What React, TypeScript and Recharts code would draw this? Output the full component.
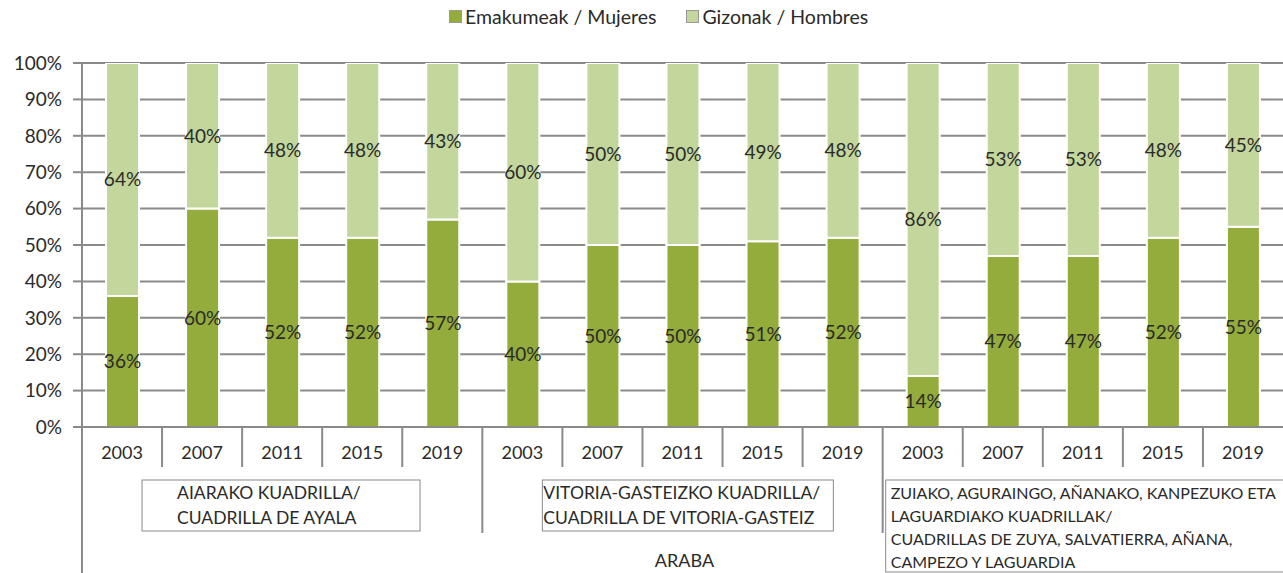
import { BarChart, Bar, XAxis, YAxis, CartesianGrid, LabelList } from 'recharts'

const years = ['2003', '2007', '2011', '2015', '2019', '2003', '2007', '2011', '2015', '2019', '2003', '2007', '2011', '2015', '2019']
const women = [36, 60, 52, 52, 57, 40, 50, 50, 51, 52, 14, 47, 47, 52, 55]
const men = [64, 40, 48, 48, 43, 60, 50, 50, 49, 48, 86, 53, 53, 48, 45]
const groupLabels = [
  ['AIARAKO KUADRILLA/', 'CUADRILLA DE AYALA'],
  ['VITORIA-GASTEIZKO KUADRILLA/', 'CUADRILLA DE VITORIA-GASTEIZ'],
  [
    'ZUIAKO, AGURAINGO, AÑANAKO, KANPEZUKO ETA',
    'LAGUARDIAKO KUADRILLAK/',
    'CUADRILLAS DE ZUYA, SALVATIERRA, AÑANA,',
    'CAMPEZO Y LAGUARDIA',
  ],
]
const regionLabel = 'ARABA'
const seriesNames = ['Emakumeak / Mujeres', 'Gizonak / Hombres']

const WIDTH = 1283
const HEIGHT = 573
const LEFT = 82
const BAND = (WIDTH - LEFT) / years.length
const FONT = 'Lato, "Open Sans", sans-serif'
const GRID = '#8a8a8a'
const TEXT = '#2a2a2a'
const DARK = '#93ac3c'
const LIGHT = '#c3d69b'

const data = years.map((y, i) => ({ id: `${i}-${y}`, women: women[i], men: men[i] }))

// box offsets relative to the first bar centre in each group
const groupBoxes = [
  { dx: 20, w: 278, h: 51, tx: 55, lineH: 25, fs: 17.5 },
  { dx: 20, w: 291, h: 51, tx: 21, lineH: 25, fs: 17.5 },
  { dx: -37, w: 420, h: 92, tx: -32, lineH: 23, fs: 16 },
]

function XTick(props: any) {
  const { x, y, payload } = props
  const i = payload.index as number
  const half = BAND / 2
  const last = i === years.length - 1
  const groupEnd = i % 5 === 4
  const sepLen = groupEnd ? 106 : 40
  const g = i % 5 === 0 ? Math.floor(i / 5) : -1
  const box = g >= 0 ? groupBoxes[g] : null
  return (
    <g>
      <text x={x} y={y + 32} textAnchor="middle" fill={TEXT} fontSize={18} fontFamily={FONT}>
        {years[i]}
      </text>
      {!last && (
        <line x1={x + half} x2={x + half} y1={y} y2={y + sepLen} stroke={GRID} strokeWidth={2} />
      )}
      {i === 0 && (
        <>
          <line x1={x - half} x2={x - half} y1={y} y2={HEIGHT} stroke={GRID} strokeWidth={2} />
          <text x={LEFT + (WIDTH - LEFT) / 2 + 2} y={y + 140} textAnchor="middle" fill={TEXT} fontSize={18} fontFamily={FONT}>
            {regionLabel}
          </text>
        </>
      )}
      {box && (
        <g>
          <rect x={x + box.dx} y={y + 53} width={box.w} height={box.h} fill="#fff" stroke={GRID} strokeWidth={1} />
          {groupLabels[g].map((line, k) => (
            <text
              key={k}
              x={x + box.tx}
              y={y + 53 + 19 + k * box.lineH}
              fill={TEXT}
              fontSize={box.fs}
              fontFamily={FONT}
            >
              {line}
            </text>
          ))}
        </g>
      )}
    </g>
  )
}

function Legend() {
  const item = (color: string, label: string) => (
    <div style={{ display: 'flex', alignItems: 'center', marginRight: 30 }}>
      <span
        style={{
          display: 'inline-block',
          width: 11,
          height: 11,
          background: color,
          border: '1px solid #999',
          marginRight: 3,
        }}
      />
      <span>{label}</span>
    </div>
  )
  return (
    <div
      style={{
        position: 'absolute',
        left: 449,
        top: 5,
        display: 'flex',
        fontFamily: FONT,
        fontSize: 19.5,
        color: TEXT,
        zIndex: 2,
      }}
    >
      {item(DARK, seriesNames[0])}
      {item(LIGHT, seriesNames[1])}
    </div>
  )
}

export default function App() {
  return (
    <div style={{ position: 'absolute', left: 0, top: 0, width: WIDTH, height: HEIGHT, background: '#fff', overflow: 'hidden' }}>
      <Legend />
      <BarChart width={WIDTH} height={HEIGHT} data={data} margin={{ top: 63, right: 0, bottom: 0, left: 0 }} barSize={33}>
        <CartesianGrid vertical={false} stroke={GRID} strokeWidth={2} />
        <YAxis
          width={LEFT}
          domain={[0, 100]}
          ticks={[0, 10, 20, 30, 40, 50, 60, 70, 80, 90, 100]}
          tickFormatter={(v: number) => `${v}%`}
          tick={{ fill: TEXT, fontSize: 19, fontFamily: FONT }}
          tickSize={9}
          tickMargin={11}
          stroke={GRID}
          strokeWidth={2}
          allowDataOverflow
        />
        <XAxis
          dataKey="id"
          height={HEIGHT - 63 - 364}
          interval={0}
          tickSize={0}
          tickMargin={0}
          tickLine={false}
          tick={<XTick />}
          stroke={GRID}
          strokeWidth={2}
        />
        <Bar dataKey="women" name={seriesNames[0]} stackId="s" fill={DARK} stroke="#fff" strokeWidth={2} isAnimationActive={false}>
          <LabelList dataKey="women" position="center" formatter={(v: any) => `${v}%`} fill={TEXT} fontSize={19} fontFamily={FONT} />
        </Bar>
        <Bar dataKey="men" name={seriesNames[1]} stackId="s" fill={LIGHT} stroke="#fff" strokeWidth={2} isAnimationActive={false}>
          <LabelList dataKey="men" position="center" formatter={(v: any) => `${v}%`} fill={TEXT} fontSize={19} fontFamily={FONT} />
        </Bar>
      </BarChart>
    </div>
  )
}
